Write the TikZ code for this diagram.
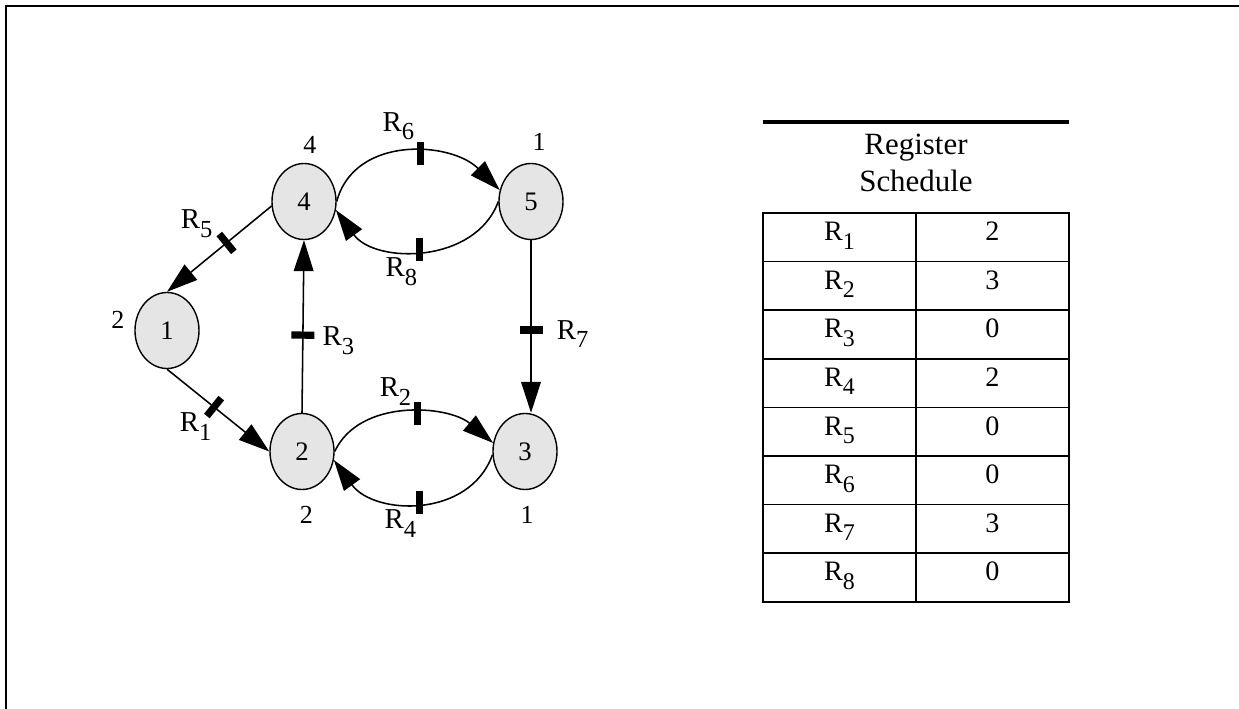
\documentclass[tikz,border=0pt]{standalone}
\usepackage{fontspec}
\setmainfont{Liberation Serif}
\usepackage{graphicx}
\usetikzlibrary{arrows.meta,shapes.geometric,positioning}
\newcommand{\reg}[1]{R\raisebox{-.3em}{\scalebox{.85}{#1}}}

\begin{document}
\begin{tikzpicture}[x=0.025cm, y=0.025cm,
  vertex/.style={draw, line width=1pt, fill=black!10, ellipse, minimum width=1.6cm, minimum height=1.9cm, inner sep=0pt, font=\fontsize{19}{21}\selectfont},
  wlab/.style={inner sep=0pt, font=\fontsize{18.5}{20}\selectfont},
  flow/.style={line width=1.1pt, -{Triangle[length=22pt,width=14pt]}},
  regtick/.style={fill=black, inner sep=0pt, minimum width=0.18cm, minimum height=0.575cm},
  reglab/.style={inner sep=0pt, font=\fontsize{20.5}{24}\selectfont},
  tabline/.style={line width=1.2pt},
  entry/.style={inner sep=0pt, anchor=base, font=\fontsize{20}{22}\selectfont}]
  \useasboundingbox (0,0) rectangle (1239,709);
  \draw[line width=1.4pt] (6,-10) -- (6,703) -- (1250,703);

  % graph
  \node[vertex] (n1) at (167,378.5) {1};
  \node[vertex] (n2) at (302,257.5) {2};
  \node[vertex] (n3) at (525,257.5) {3};
  \node[vertex] (n4) at (304,507.5) {4};
  \node[vertex] (n5) at (531,507.5) {5};

  \node[wlab, above=0.22cm of n4, xshift=0.15cm] (w4) {4};
  \node[wlab, above=0.3cm of n5, xshift=0.2cm] (w5) {1};
  \node[wlab, left=0.24cm of n1, yshift=0.26cm] (w1) {2};
  \node[wlab, below=0.4cm of n2, xshift=0.11cm] (w2) {2};
  \node[wlab, below=0.4cm of n3, xshift=0.05cm] (w3) {1};

  \draw[flow] (n4.188) -- node[regtick, sloped, pos=.43] (t5) {} (n1.north);
  \draw[flow] (n1.south) -- node[regtick, sloped, pos=.46] (t1) {} (n2.west);
  \draw[flow] (n2.north) -- node[regtick, sloped, pos=.45] (t3) {} (n4.south);
  \draw[flow] (n5.south) -- node[regtick, sloped, pos=.52] (t7) {} (n5.south |- n3.north);
  \draw[flow] (n4.east) to[out=75, in=135, looseness=1.08] node[regtick, pos=.57] (t6) {} (n5.160);
  \draw[flow] (n5.west) to[out=-110, in=-54, looseness=1.05] node[regtick, pos=.52] (t8) {} (n4.345);
  \draw[flow] (n2.east) to[out=65, in=140, looseness=.95] node[regtick, pos=.56] (t2) {} (n3.165);
  \draw[flow] (n3.186) to[out=-110, in=-54, looseness=1.1] node[regtick, pos=.5] (t4) {} (n2.345);

  \node[reglab] (l1) at ([shift={(-18.5,-19.5)}]t1) {\reg{1}};
  \node[reglab] (l2) at ([shift={(-22,22)}]t2) {\reg{2}};
  \node[reglab] (l3) at ([shift={(35.5,-5.5)}]t3) {\reg{3}};
  \node[reglab] (l4) at ([shift={(-19,-21)}]t4) {\reg{4}};
  \node[reglab] (l5) at ([shift={(-30,19)}]t5) {\reg{5}};
  \node[reglab] (l6) at ([shift={(-22,27)}]t6) {\reg{6}};
  \node[reglab] (l7) at ([shift={(41.7,-4)}]t7) {\reg{7}};
  \node[reglab] (l8) at ([shift={(-18,-22)}]t8) {\reg{8}};

  % schedule table
  \draw[line width=3.5pt] (763,587) -- (1069,587);
  \node[inner sep=0pt, align=center, font=\fontsize{22}{26.3}\selectfont] (head) at (916,546) {Register\\Schedule};
  \foreach \k/\v in {1/2,2/3,3/0,4/2,5/0,6/0,7/3,8/0}{
    \pgfmathsetmacro\rtop{496-(\k-1)*48.6}
    \pgfmathsetmacro\rbot{496-\k*48.6}
    \draw[tabline] (763,\rtop) rectangle (1069,\rbot) (916,\rtop) -- (916,\rbot);
    \node[entry] (r\k) at (839.5,\rtop-27.7) {\reg{\k}};
    \node[entry] (v\k) at (992.5,\rtop-27.7) {\v};
  }
\end{tikzpicture}
\end{document}
